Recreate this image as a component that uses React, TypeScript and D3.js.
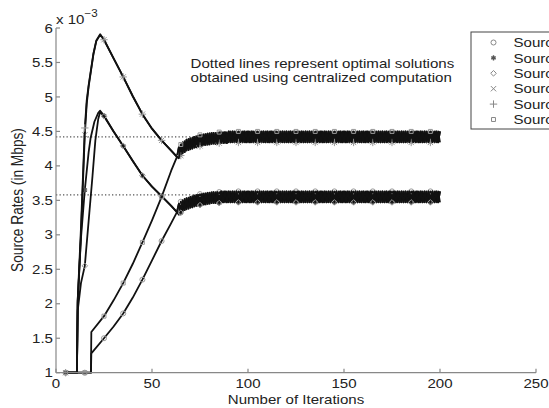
import React, { useEffect, useRef } from 'react';
import * as d3 from 'd3';

// Source rates vs. iteration; rates in units of 1e-3 Mbps.
const W = 549;
const H = 408;

const iterTicks = [0, 50, 100, 150, 200, 250];
const rateTicks = [1, 1.5, 2, 2.5, 3, 3.5, 4, 4.5, 5, 5.5, 6];
const optimalRates = [4.42, 3.58];
const legendLabels = ['Source 1', 'Source 2', 'Source 3', 'Source 4', 'Source 5', 'Source 6'];
const markerIters = [5, 15, 25, 35, 45, 55, 65, 75, 85, 95, 105, 115, 125, 135, 145, 155, 165, 175, 185, 195];
const steadyStart = 64;

// transient part, [iteration, rate]
const source1Start: [number, number][] = [
  [4, 1], [18.2, 1], [18.4, 1.28], [25, 1.5], [30, 1.67], [35, 1.86], [40, 2.09],
  [45, 2.35], [50, 2.63], [55, 2.91], [60, 3.17], [63, 3.33],
];
const source2Start: [number, number][] = [
  [4, 1], [10.9, 1], [11.3, 2.05], [13, 2.95], [15, 3.65], [17, 4.2], [18, 4.4], [20, 4.64],
  [22, 4.77], [23, 4.8], [25, 4.73], [30, 4.5], [35, 4.29], [40, 4.07], [45, 3.86],
  [50, 3.7], [55, 3.56], [60, 3.42], [63, 3.33],
];
const source3Start: [number, number][] = [
  [4, 1], [10.9, 1], [11.3, 1.9], [13, 2.3], [15, 2.55], [17, 3.2], [19, 3.85], [20.5, 4.37],
  [22, 4.68], [23, 4.78], [25, 4.72], [30, 4.5], [35, 4.29], [40, 4.07], [45, 3.86],
  [50, 3.7], [55, 3.56], [60, 3.42], [63, 3.33],
];
const source4Start: [number, number][] = [
  [4, 1], [10.9, 1], [11.3, 2.0], [13, 3.0], [15, 4.45], [16, 4.9], [17, 5.15], [19.5, 5.62],
  [21, 5.81], [23, 5.9], [25, 5.83], [30, 5.56], [35, 5.29], [40, 5.01], [45, 4.75],
  [50, 4.54], [55, 4.37], [60, 4.22], [63, 4.13],
];
const source5Start: [number, number][] = [
  [4, 1], [10.9, 1], [11.3, 2.05], [13, 3.1], [15, 4.55], [16, 4.95], [17, 5.17], [19.5, 5.63],
  [21, 5.82], [23, 5.91], [25, 5.83], [30, 5.56], [35, 5.29], [40, 5.01], [45, 4.75],
  [50, 4.54], [55, 4.37], [60, 4.22], [63, 4.13],
];
const source6Start: [number, number][] = [
  [4, 1], [18.2, 1], [18.4, 1.59], [25, 1.82], [30, 2.05], [35, 2.3], [40, 2.58],
  [45, 2.89], [50, 3.21], [55, 3.55], [60, 3.93], [63, 4.13],
];

// oscillating part, one value per iteration from 64 to 200
const upperSteadyA = [
  4.27, 4.15, 4.34, 4.20, 4.38, 4.23, 4.40, 4.25, 4.42, 4.27, 4.44, 4.29, 4.45,
  4.30, 4.46, 4.31, 4.47, 4.32, 4.48, 4.32, 4.48, 4.33, 4.49, 4.33, 4.49, 4.33,
  4.5, 4.34, 4.5, 4.34, 4.5, 4.34, 4.5, 4.34, 4.5, 4.34,
  4.5, 4.34, 4.5, 4.34, 4.5, 4.34, 4.5, 4.34, 4.5, 4.34,
  4.5, 4.34, 4.5, 4.34, 4.5, 4.34, 4.5, 4.34, 4.5, 4.34,
  4.5, 4.34, 4.5, 4.34, 4.5, 4.34, 4.5, 4.34, 4.5, 4.34,
  4.5, 4.34, 4.5, 4.34, 4.5, 4.34, 4.5, 4.34, 4.5, 4.34,
  4.5, 4.34, 4.5, 4.34, 4.5, 4.34, 4.5, 4.34, 4.5, 4.34,
  4.5, 4.34, 4.5, 4.34, 4.5, 4.34, 4.5, 4.34, 4.5, 4.34,
  4.5, 4.34, 4.5, 4.34, 4.5, 4.34, 4.5, 4.34, 4.5, 4.34,
  4.5, 4.34, 4.5, 4.34, 4.5, 4.34, 4.5, 4.34, 4.5, 4.34,
  4.5, 4.34, 4.5, 4.34, 4.5, 4.34, 4.5, 4.34, 4.5, 4.34,
  4.5, 4.34, 4.5, 4.34, 4.5, 4.34, 4.5, 4.34, 4.5, 4.34,
  4.5,
];
const upperSteadyC = [
  4.11, 4.31, 4.18, 4.36, 4.22, 4.39, 4.24, 4.41, 4.26, 4.43, 4.28, 4.45, 4.29,
  4.46, 4.30, 4.47, 4.31, 4.48, 4.32, 4.48, 4.32, 4.49, 4.33, 4.49, 4.33, 4.49,
  4.34, 4.5, 4.34, 4.5, 4.34, 4.5, 4.34, 4.5, 4.34, 4.5,
  4.34, 4.5, 4.34, 4.5, 4.34, 4.5, 4.34, 4.5, 4.34, 4.5,
  4.34, 4.5, 4.34, 4.5, 4.34, 4.5, 4.34, 4.5, 4.34, 4.5,
  4.34, 4.5, 4.34, 4.5, 4.34, 4.5, 4.34, 4.5, 4.34, 4.5,
  4.34, 4.5, 4.34, 4.5, 4.34, 4.5, 4.34, 4.5, 4.34, 4.5,
  4.34, 4.5, 4.34, 4.5, 4.34, 4.5, 4.34, 4.5, 4.34, 4.5,
  4.34, 4.5, 4.34, 4.5, 4.34, 4.5, 4.34, 4.5, 4.34, 4.5,
  4.34, 4.5, 4.34, 4.5, 4.34, 4.5, 4.34, 4.5, 4.34, 4.5,
  4.34, 4.5, 4.34, 4.5, 4.34, 4.5, 4.34, 4.5, 4.34, 4.5,
  4.34, 4.5, 4.34, 4.5, 4.34, 4.5, 4.34, 4.5, 4.34, 4.5,
  4.34, 4.5, 4.34, 4.5, 4.34, 4.5, 4.34, 4.5, 4.34, 4.5,
  4.34,
];
const lowerSteadyB = [
  3.45, 3.32, 3.50, 3.36, 3.53, 3.38, 3.55, 3.40, 3.57, 3.42, 3.58,
  3.43, 3.59, 3.44, 3.60, 3.45, 3.61, 3.46, 3.62, 3.46, 3.62, 3.46,
  3.63, 3.47, 3.63, 3.47,
  3.63, 3.47, 3.63, 3.47, 3.63, 3.47, 3.63, 3.47, 3.63, 3.47,
  3.63, 3.47, 3.63, 3.47, 3.63, 3.47, 3.63, 3.47, 3.63, 3.47,
  3.63, 3.47, 3.63, 3.47, 3.63, 3.47, 3.63, 3.47, 3.63, 3.47,
  3.63, 3.47, 3.63, 3.47, 3.63, 3.47, 3.63, 3.47, 3.63, 3.47,
  3.63, 3.47, 3.63, 3.47, 3.63, 3.47, 3.63, 3.47, 3.63, 3.47,
  3.63, 3.47, 3.63, 3.47, 3.63, 3.47, 3.63, 3.47, 3.63, 3.47,
  3.63, 3.47, 3.63, 3.47, 3.63, 3.47, 3.63, 3.47, 3.63, 3.47,
  3.63, 3.47, 3.63, 3.47, 3.63, 3.47, 3.63, 3.47, 3.63, 3.47,
  3.63, 3.47, 3.63, 3.47, 3.63, 3.47, 3.63, 3.47, 3.63, 3.47,
  3.63, 3.47, 3.63, 3.47, 3.63, 3.47, 3.63, 3.47, 3.63, 3.47,
  3.63, 3.47, 3.63, 3.47, 3.63, 3.47, 3.63, 3.47, 3.63, 3.47,
  3.63,
];
const lowerSteadyD = [
  3.29, 3.48, 3.34, 3.52, 3.37, 3.54, 3.39, 3.56, 3.41, 3.58, 3.42,
  3.59, 3.43, 3.60, 3.44, 3.61, 3.45, 3.62, 3.46, 3.62, 3.46, 3.62,
  3.47, 3.63, 3.47, 3.63,
  3.47, 3.63, 3.47, 3.63, 3.47, 3.63, 3.47, 3.63, 3.47, 3.63,
  3.47, 3.63, 3.47, 3.63, 3.47, 3.63, 3.47, 3.63, 3.47, 3.63,
  3.47, 3.63, 3.47, 3.63, 3.47, 3.63, 3.47, 3.63, 3.47, 3.63,
  3.47, 3.63, 3.47, 3.63, 3.47, 3.63, 3.47, 3.63, 3.47, 3.63,
  3.47, 3.63, 3.47, 3.63, 3.47, 3.63, 3.47, 3.63, 3.47, 3.63,
  3.47, 3.63, 3.47, 3.63, 3.47, 3.63, 3.47, 3.63, 3.47, 3.63,
  3.47, 3.63, 3.47, 3.63, 3.47, 3.63, 3.47, 3.63, 3.47, 3.63,
  3.47, 3.63, 3.47, 3.63, 3.47, 3.63, 3.47, 3.63, 3.47, 3.63,
  3.47, 3.63, 3.47, 3.63, 3.47, 3.63, 3.47, 3.63, 3.47, 3.63,
  3.47, 3.63, 3.47, 3.63, 3.47, 3.63, 3.47, 3.63, 3.47, 3.63,
  3.47, 3.63, 3.47, 3.63, 3.47, 3.63, 3.47, 3.63, 3.47, 3.63,
  3.47,
];

const FONT = '"Liberation Sans", Arial, Helvetica, sans-serif';
const SX = 1.16; // the source figure is stretched horizontally

const sym = (name: string, fallback: d3.SymbolType): d3.SymbolType =>
  ((d3 as any)[name] as d3.SymbolType) || fallback;

export default function App() {
  const svgRef = useRef<SVGSVGElement>(null);

  useEffect(() => {
    if (!svgRef.current) return;
    const svg = d3.select(svgRef.current);
    svg.selectAll('*').remove();

    const x = d3.scaleLinear().domain([0, 250]).range([56, 536]);
    const y = d3.scaleLinear().domain([1, 6]).range([372.7, 28]);

    const symbols = [
      d3.symbolCircle,
      sym('symbolAsterisk', d3.symbolCross),
      sym('symbolDiamond2', d3.symbolDiamond),
      sym('symbolTimes', d3.symbolCross),
      sym('symbolPlus', d3.symbolCross),
      sym('symbolSquare2', d3.symbolSquare),
    ];
    const starts = [source1Start, source2Start, source3Start, source4Start, source5Start, source6Start];
    const steadies = [lowerSteadyD, lowerSteadyB, lowerSteadyB, upperSteadyA, upperSteadyA, upperSteadyC];

    const text = (
      g: d3.Selection<any, unknown, null, undefined>,
      tx: number, ty: number, str: string, anchor = 'start', size = 13,
    ) => g.append('text')
      .attr('transform', `translate(${tx},${ty}) scale(${SX},1)`)
      .attr('text-anchor', anchor)
      .attr('font-family', FONT)
      .attr('font-size', size)
      .attr('fill', '#222')
      .text(str);

    // optimal (centralized) solutions
    optimalRates.forEach(r => {
      svg.append('line')
        .attr('x1', x(0)).attr('x2', x(200))
        .attr('y1', y(r)).attr('y2', y(r))
        .attr('stroke', '#555').attr('stroke-width', 1.3)
        .attr('stroke-dasharray', '1.3,2.2');
    });

    const line = d3.line<[number, number]>().x(d => x(d[0])).y(d => y(d[1]));

    starts.forEach((st, i) => {
      const pts: [number, number][] = [
        ...st,
        ...steadies[i].map((v, k) => [steadyStart + k, v] as [number, number]),
      ];
      svg.append('path')
        .attr('d', line(pts))
        .attr('fill', 'none')
        .attr('stroke', '#111')
        .attr('stroke-width', 1.8)
        .attr('stroke-linejoin', 'round');

      const at = d3.scaleLinear().domain(pts.map(p => p[0])).range(pts.map(p => p[1]));
      const shape = d3.symbol().type(symbols[i]).size(i === 1 ? 18 : 20);
      svg.append('g').selectAll('path').data(markerIters).enter().append('path')
        .attr('transform', d => `translate(${x(d)},${y(at(d))})`)
        .attr('d', shape()!)
        .attr('fill', 'none')
        .attr('stroke', i === 1 ? '#555' : '#999')
        .attr('stroke-width', i === 1 ? 1.4 : 1);
    });

    // axes (left and bottom only, ticks pointing inward)
    const axis = svg.append('g').attr('stroke', '#888').attr('stroke-width', 1.2);
    axis.append('line').attr('x1', x(0)).attr('x2', x(0)).attr('y1', y(1)).attr('y2', y(6));
    axis.append('line').attr('x1', x(0)).attr('x2', x(250)).attr('y1', y(1)).attr('y2', y(1));
    rateTicks.forEach(t => {
      axis.append('line').attr('x1', x(0)).attr('x2', x(0) + 4).attr('y1', y(t)).attr('y2', y(t));
      text(svg, 53, y(t) + 4.6, String(t), 'end');
    });
    iterTicks.forEach(t => {
      axis.append('line').attr('x1', x(t)).attr('x2', x(t)).attr('y1', y(1)).attr('y2', y(1) - 4);
      text(svg, x(t), 388, String(t), 'middle');
    });

    // exponent
    const ex = text(svg, 56, 24, 'x 10');
    ex.append('tspan').attr('dy', -7.5).attr('font-size', 10).text('\u22123');

    text(svg, 296, 404, 'Number of Iterations', 'middle');
    svg.append('text')
      .attr('transform', `translate(22.5,200) scale(${SX},1) rotate(-90)`)
      .attr('text-anchor', 'middle')
      .attr('font-family', FONT)
      .attr('font-size', 13.7)
      .attr('fill', '#222')
      .text('Source Rates (in Mbps)');

    text(svg, 190.5, 68, 'Dotted lines represent optimal solutions');
    text(svg, 190.5, 82, 'obtained using centralized computation');

    // legend (cut off by the figure edge)
    const lg = svg.append('g');
    lg.append('rect')
      .attr('x', 471).attr('y', 32).attr('width', 120).attr('height', 97)
      .attr('fill', '#fff').attr('stroke', '#444').attr('stroke-width', 1);
    legendLabels.forEach((lab, i) => {
      const ly = 42.5 + i * 15.4;
      lg.append('path')
        .attr('transform', `translate(493.5,${ly})`)
        .attr('d', d3.symbol().type(symbols[i]).size(i === 1 ? 18 : 20)()!)
        .attr('fill', 'none')
        .attr('stroke', i === 1 ? '#555' : '#888')
        .attr('stroke-width', i === 1 ? 1.4 : 1);
      text(lg, 513.5, ly + 4.6, lab);
    });
  }, []);

  return (
    <svg
      ref={svgRef}
      width={W}
      height={H}
      style={{ position: 'absolute', left: 0, top: 0, background: '#fff' }}
    />
  );
}
